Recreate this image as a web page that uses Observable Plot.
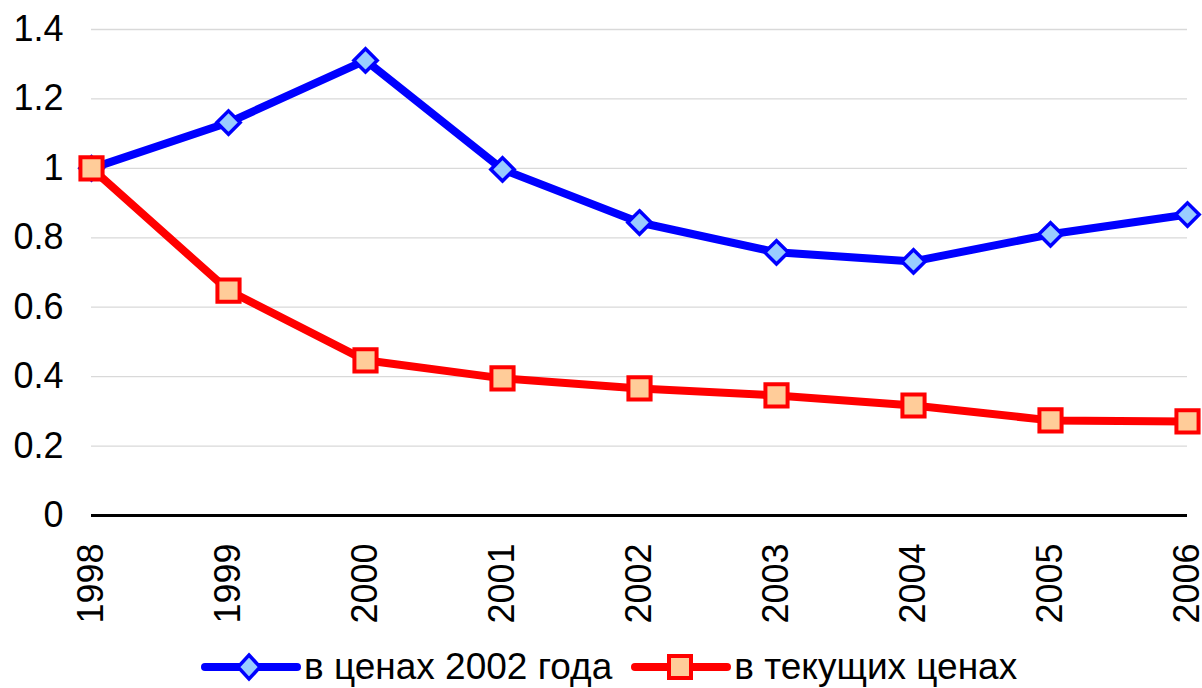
<!DOCTYPE html>
<html>
<head>
<meta charset="utf-8">
<script src="https://cdn.jsdelivr.net/npm/d3@7"></script>
<script src="https://cdn.jsdelivr.net/npm/@observablehq/plot@0.6"></script>
<style>
  html, body { margin: 0; padding: 0; background: #fff; }
  body { width: 1202px; font-family: "Liberation Sans", Arial, sans-serif; }
  #legend { display: flex; justify-content: flex-start; align-items: center; height: 43px; padding-left: 201px; font-size: 37px; color: #000; white-space: nowrap; }
  #legend .item { display: flex; align-items: center; margin-right: 19px; }
  #legend svg { margin-right: 3px; }
</style>
</head>
<body>
<div id="chart"></div>
<div id="legend"></div>
<script>
const years = [1998, 1999, 2000, 2001, 2002, 2003, 2004, 2005, 2006];
const seriesNames = ["в ценах 2002 года", "в текущих ценах"];
const constPrices = [1.0, 1.132, 1.311, 0.997, 0.844, 0.758, 0.732, 0.81, 0.867];
const currentPrices = [1.0, 0.648, 0.447, 0.395, 0.366, 0.346, 0.317, 0.274, 0.271];
const yTicks = [0, 0.2, 0.4, 0.6, 0.8, 1, 1.2, 1.4];
const lineColors = ["#0000ff", "#ff0000"];
const fillColors = ["#99ccff", "#ffcc99"];

const data = [];
years.forEach((y, i) => {
  data.push({year: y, value: constPrices[i], series: seriesNames[0]});
  data.push({year: y, value: currentPrices[i], series: seriesNames[1]});
});
const s0 = data.filter(d => d.series === seriesNames[0]);
const s1 = data.filter(d => d.series === seriesNames[1]);

const chart = Plot.plot({
  width: 1202,
  height: 645,
  marginLeft: 91,
  marginRight: 15,
  marginTop: 29,
  marginBottom: 130,
  style: {fontFamily: '"Liberation Sans", Arial, sans-serif', fontSize: "36px", color: "#000", background: "#fff", overflow: "visible"},
  x: {domain: [1998, 2006]},
  y: {domain: [0, 1.4]},
  marks: [
    Plot.ruleY(yTicks.filter(t => t > 0), {stroke: "#d9d9d9", strokeWidth: 1.3}),
    Plot.ruleY([0], {stroke: "#000", strokeWidth: 3}),
    Plot.axisY({ticks: yTicks, tickSize: 0, tickPadding: 28, tickFormat: d => String(d), fontSize: 36, label: null}),
    Plot.axisX({ticks: years, tickSize: 0, tickPadding: 28, tickRotate: -90, tickFormat: d => String(d), fontSize: 36, label: null}),
    Plot.line(s0, {x: "year", y: "value", stroke: lineColors[0], strokeWidth: 8, strokeLinejoin: "round", strokeLinecap: "round"}),
    Plot.line(s1, {x: "year", y: "value", stroke: lineColors[1], strokeWidth: 8, strokeLinejoin: "round", strokeLinecap: "round"}),
    Plot.dot(s0, {x: "year", y: "value", symbol: "diamond2", r: 10.5, fill: fillColors[0], stroke: lineColors[0], strokeWidth: 3.5}),
    Plot.dot(s1, {x: "year", y: "value", symbol: "square", r: 12.5, fill: fillColors[1], stroke: lineColors[1], strokeWidth: 4})
  ]
});
document.getElementById("chart").appendChild(chart);

// legend
const legend = d3.select("#legend");
seriesNames.forEach((name, i) => {
  const item = legend.append("div").attr("class", "item");
  const svg = item.append("svg").attr("width", 100).attr("height", 30);
  svg.append("line").attr("x1", 4).attr("x2", 96).attr("y1", 15).attr("y2", 15)
    .attr("stroke", lineColors[i]).attr("stroke-width", 8).attr("stroke-linecap", "round");
  if (i === 0) {
    svg.append("path").attr("d", "M48,3 L59,15 L48,27 L37,15 Z")
      .attr("fill", fillColors[0]).attr("stroke", lineColors[0]).attr("stroke-width", 3.5);
  } else {
    svg.append("rect").attr("x", 38).attr("y", 4).attr("width", 22).attr("height", 22)
      .attr("fill", fillColors[1]).attr("stroke", lineColors[1]).attr("stroke-width", 4);
  }
  item.append("span").text(name);
});
</script>
</body>
</html>
